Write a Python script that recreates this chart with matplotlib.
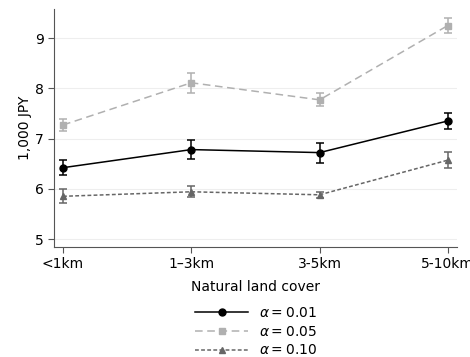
import numpy as np
import matplotlib.pyplot as plt
from matplotlib.lines import Line2D

# distance bands of natural land cover
categories = ['<1km', '1\u20133km', '3-5km', '5-10km']

# means and error bar half-widths, 1,000 JPY
mean_01 = [6.42, 6.78, 6.72, 7.35]
err_01 = [0.15, 0.19, 0.20, 0.16]
mean_05 = [7.27, 8.11, 7.77, 9.25]
err_05 = [0.12, 0.20, 0.13, 0.15]
mean_10 = [5.85, 5.94, 5.88, 6.57]
err_10 = [0.14, 0.11, 0.06, 0.16]

x = np.arange(len(categories))

fig = plt.figure(figsize=(4.7, 3.57), dpi=100)
ax = fig.add_axes([0.115, 0.308, 0.857, 0.667])

series = [
    (mean_01, err_01, 'black', '-', 'o', r'$\alpha = 0.01$'),
    (mean_05, err_05, '#b0b0b0', (0, (5, 3)), 's', r'$\alpha = 0.05$'),
    (mean_10, err_10, '#666666', (0, (2.5, 1.5)), '^', r'$\alpha = 0.10$'),
]
handles = []
for m, e, c, ls, mk, lab in series:
    ax.errorbar(x, m, yerr=e, color=c, linestyle=ls, marker=mk,
                markersize=5, linewidth=1.1, elinewidth=1.1,
                capsize=3, capthick=1.1)
    handles.append(Line2D([], [], color=c, linestyle=ls, marker=mk,
                          markersize=5, linewidth=1.1, label=lab))

ax.set_xlim(-0.07, 3.07)
ax.set_ylim(4.84, 9.58)
ax.set_yticks([5, 6, 7, 8, 9])
ax.set_xticks(x)
ax.set_xticklabels(categories)
ax.yaxis.grid(True, color='#eeeeee', linewidth=0.8)
ax.set_axisbelow(True)
for s in ['top', 'right']:
    ax.spines[s].set_visible(False)
for s in ['left', 'bottom']:
    ax.spines[s].set_color('#555555')
ax.tick_params(colors='#555555', labelcolor='black', labelsize=10, length=4)
ax.set_ylabel('1,000 JPY', fontsize=10, labelpad=2)
ax.set_xlabel('Natural land cover', fontsize=10, labelpad=6)

fig.legend(handles=handles, loc='upper center', bbox_to_anchor=(0.545, 0.163),
           frameon=False, fontsize=10, handlelength=3.8, labelspacing=0.35,
           borderpad=0, handletextpad=0.8)

fig.savefig('out.png', dpi=100)
